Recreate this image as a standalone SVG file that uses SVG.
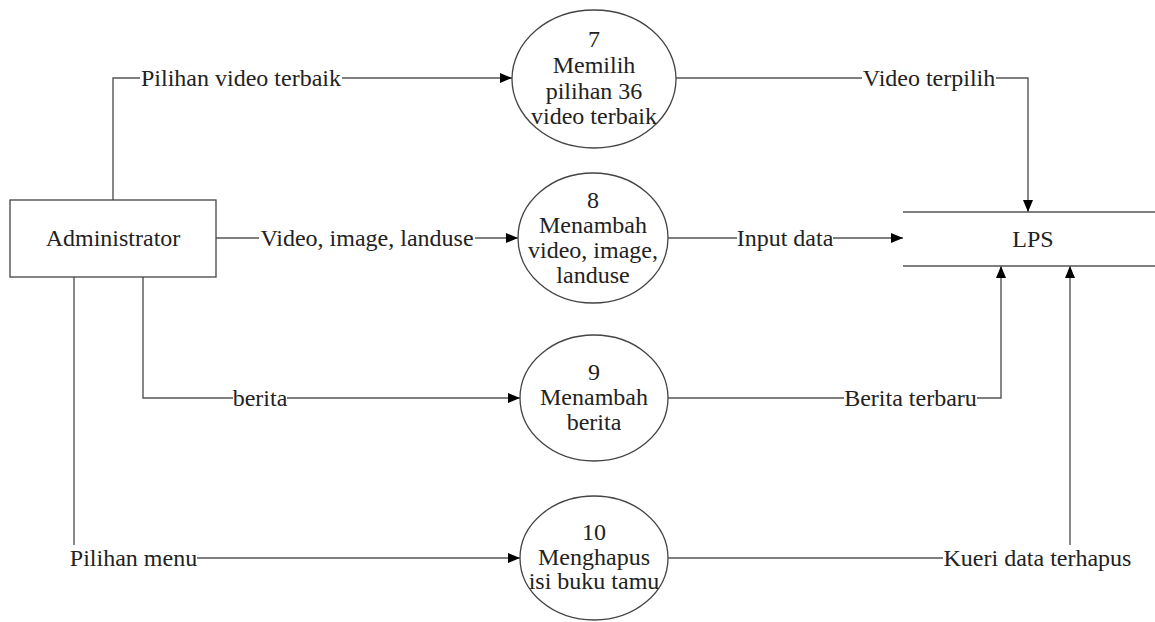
<svg xmlns="http://www.w3.org/2000/svg" width="1155" height="622" viewBox="0 0 1155 622">
<defs>
<marker id="arr" viewBox="0 0 12 10" refX="12" refY="5" markerWidth="12" markerHeight="10" markerUnits="userSpaceOnUse" orient="auto">
<path d="M0,0 L12,5 L0,10 Z" fill="#000"/>
</marker>
</defs>
<style>
text{font-family:'Liberation Serif','DejaVu Serif','Times New Roman',serif;font-size:24px;fill:#222;text-anchor:middle}
.ln{fill:none;stroke:#555;stroke-width:1.4}
.sh{fill:#fff;stroke:#444;stroke-width:1.3}
</style>
<rect width="1155" height="622" fill="#fff"/>
<g id="connectors" font-family="'Liberation Serif', serif">
<polyline class="ln" points="113,200 113,78 140,78"/>
<line class="ln" x1="342" y1="78" x2="512" y2="78" marker-end="url(#arr)"/>
<text x="241" y="86">Pilihan video terbaik</text>
<line class="ln" x1="216" y1="238" x2="259" y2="238"/>
<line class="ln" x1="475" y1="238" x2="518" y2="238" marker-end="url(#arr)"/>
<text x="367" y="246">Video, image, landuse</text>
<polyline class="ln" points="143,277 143,398 233,398"/>
<line class="ln" x1="287" y1="398" x2="520" y2="398" marker-end="url(#arr)"/>
<text x="260" y="406">berita</text>
<line class="ln" x1="74" y1="277" x2="74" y2="545"/>
<line class="ln" x1="197" y1="558" x2="520" y2="558" marker-end="url(#arr)"/>
<text x="133.5" y="566">Pilihan menu</text>
<line class="ln" x1="676" y1="78" x2="862" y2="78"/>
<polyline class="ln" points="996,78 1028,78 1028,212" marker-end="url(#arr)"/>
<text x="929" y="86">Video terpilih</text>
<line class="ln" x1="668" y1="238" x2="737" y2="238"/>
<line class="ln" x1="833" y1="238" x2="903" y2="238" marker-end="url(#arr)"/>
<text x="785" y="246">Input data</text>
<line class="ln" x1="668" y1="398" x2="844" y2="398"/>
<polyline class="ln" points="977,398 1001,398 1001,266" marker-end="url(#arr)"/>
<text x="910.5" y="406">Berita terbaru</text>
<line class="ln" x1="668" y1="558" x2="943" y2="558"/>
<line class="ln" x1="1070" y1="545" x2="1070" y2="266" marker-end="url(#arr)"/>
<text x="1037.5" y="566">Kueri data terhapus</text>
</g>
<g id="administrator">
<rect class="sh" x="10" y="200" width="206" height="77"/>
<text x="113" y="246">Administrator</text>
</g>
<g id="p7">
<ellipse class="sh" cx="594" cy="79" rx="82" ry="69"/>
<text x="594" y="47">7</text>
<text x="594" y="73">Memilih</text>
<text x="594" y="99">pilihan 36</text>
<text x="594" y="124">video terbaik</text>
</g>
<g id="p8">
<ellipse class="sh" cx="593" cy="238" rx="75" ry="65"/>
<text x="593" y="208">8</text>
<text x="593" y="233">Menambah</text>
<text x="593" y="258">video, image,</text>
<text x="593" y="283">landuse</text>
</g>
<g id="p9">
<ellipse class="sh" cx="594" cy="398" rx="74" ry="63"/>
<text x="594" y="380">9</text>
<text x="594" y="405">Menambah</text>
<text x="594" y="430">berita</text>
</g>
<g id="p10">
<ellipse class="sh" cx="594" cy="558" rx="74" ry="62"/>
<text x="594" y="540">10</text>
<text x="594" y="565">Menghapus</text>
<text x="594" y="589">isi buku tamu</text>
</g>
<g id="lps">
<line class="ln" x1="903" y1="212" x2="1155" y2="212"/>
<line class="ln" x1="903" y1="266" x2="1155" y2="266"/>
<text x="1033" y="247">LPS</text>
</g>
</svg>
